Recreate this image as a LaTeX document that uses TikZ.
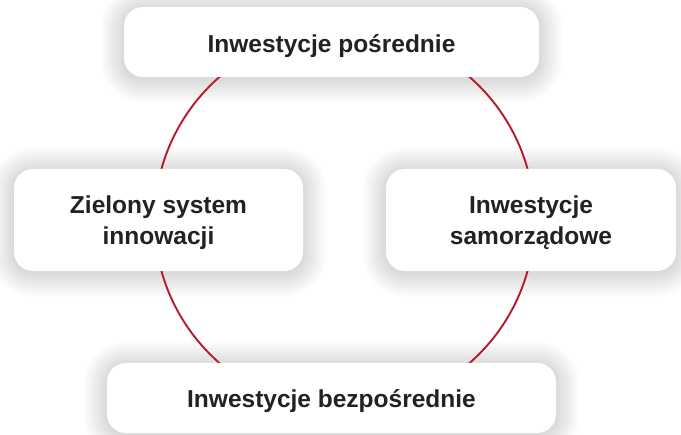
\documentclass[tikz,border=0pt]{standalone}
\usepackage{fontspec}
\setmainfont{Liberation Sans}
\usetikzlibrary{backgrounds}
\definecolor{ringred}{HTML}{B8192E}
\definecolor{txt}{HTML}{222222}
\tikzset{
  card/.style={fill=white, rounded corners=19pt, inner sep=0pt},
  cardtext/.style={inner sep=0pt, align=center, text=txt,
    font=\fontsize{24.5}{31}\selectfont\bfseries},
  ring/.style={draw=ringred, line width=1.9pt}
}
\newcommand{\softshadow}[1]{%
  \foreach \i in {1,...,18}{%
    \pgfmathsetmacro{\rr}{19+\i*1.3}%
    \fill[black, opacity=0.006, rounded corners=\rr pt]
      ([shift={(-\i*1.3pt,\i*1.3pt-2pt)}]#1.north west) rectangle
      ([shift={(\i*1.3pt,-\i*1.3pt-2pt)}]#1.south east);
  }%
}
\begin{document}
\begin{tikzpicture}[x=1pt,y=-1pt]
\coordinate (bb1) at (0,0);
\coordinate (bb2) at (681,435);
\useasboundingbox (bb1) rectangle (bb2);
\node[card, minimum width=415pt, minimum height=70pt] (top) at (331.5,42) {};
\node[card, minimum width=289pt, minimum height=102pt] (left) at (158.5,220) {};
\node[card, minimum width=290pt, minimum height=102pt] (right) at (531,220) {};
\node[card, minimum width=449pt, minimum height=70pt] (bottom) at (331.5,398) {};
\node[cardtext] (ttop) at ([yshift=-4pt]top.center) {Inwestycje pośrednie};
\node[cardtext] (tleft) at ([yshift=-3pt]left.center) {Zielony system\\innowacji};
\node[cardtext] (tright) at ([yshift=-3pt]right.center) {Inwestycje\\samorządowe};
\node[cardtext] (tbottom) at ([yshift=-3pt]bottom.center) {Inwestycje bezpośrednie};
\begin{scope}[on background layer]
  \fill[white] (bb1) rectangle (bb2);
  \softshadow{top}
  \softshadow{left}
  \softshadow{right}
  \softshadow{bottom}
  \coordinate (c) at (344.5,220);
  \draw[ring] (c) circle[radius=190pt];
\end{scope}
\end{tikzpicture}
\end{document}
